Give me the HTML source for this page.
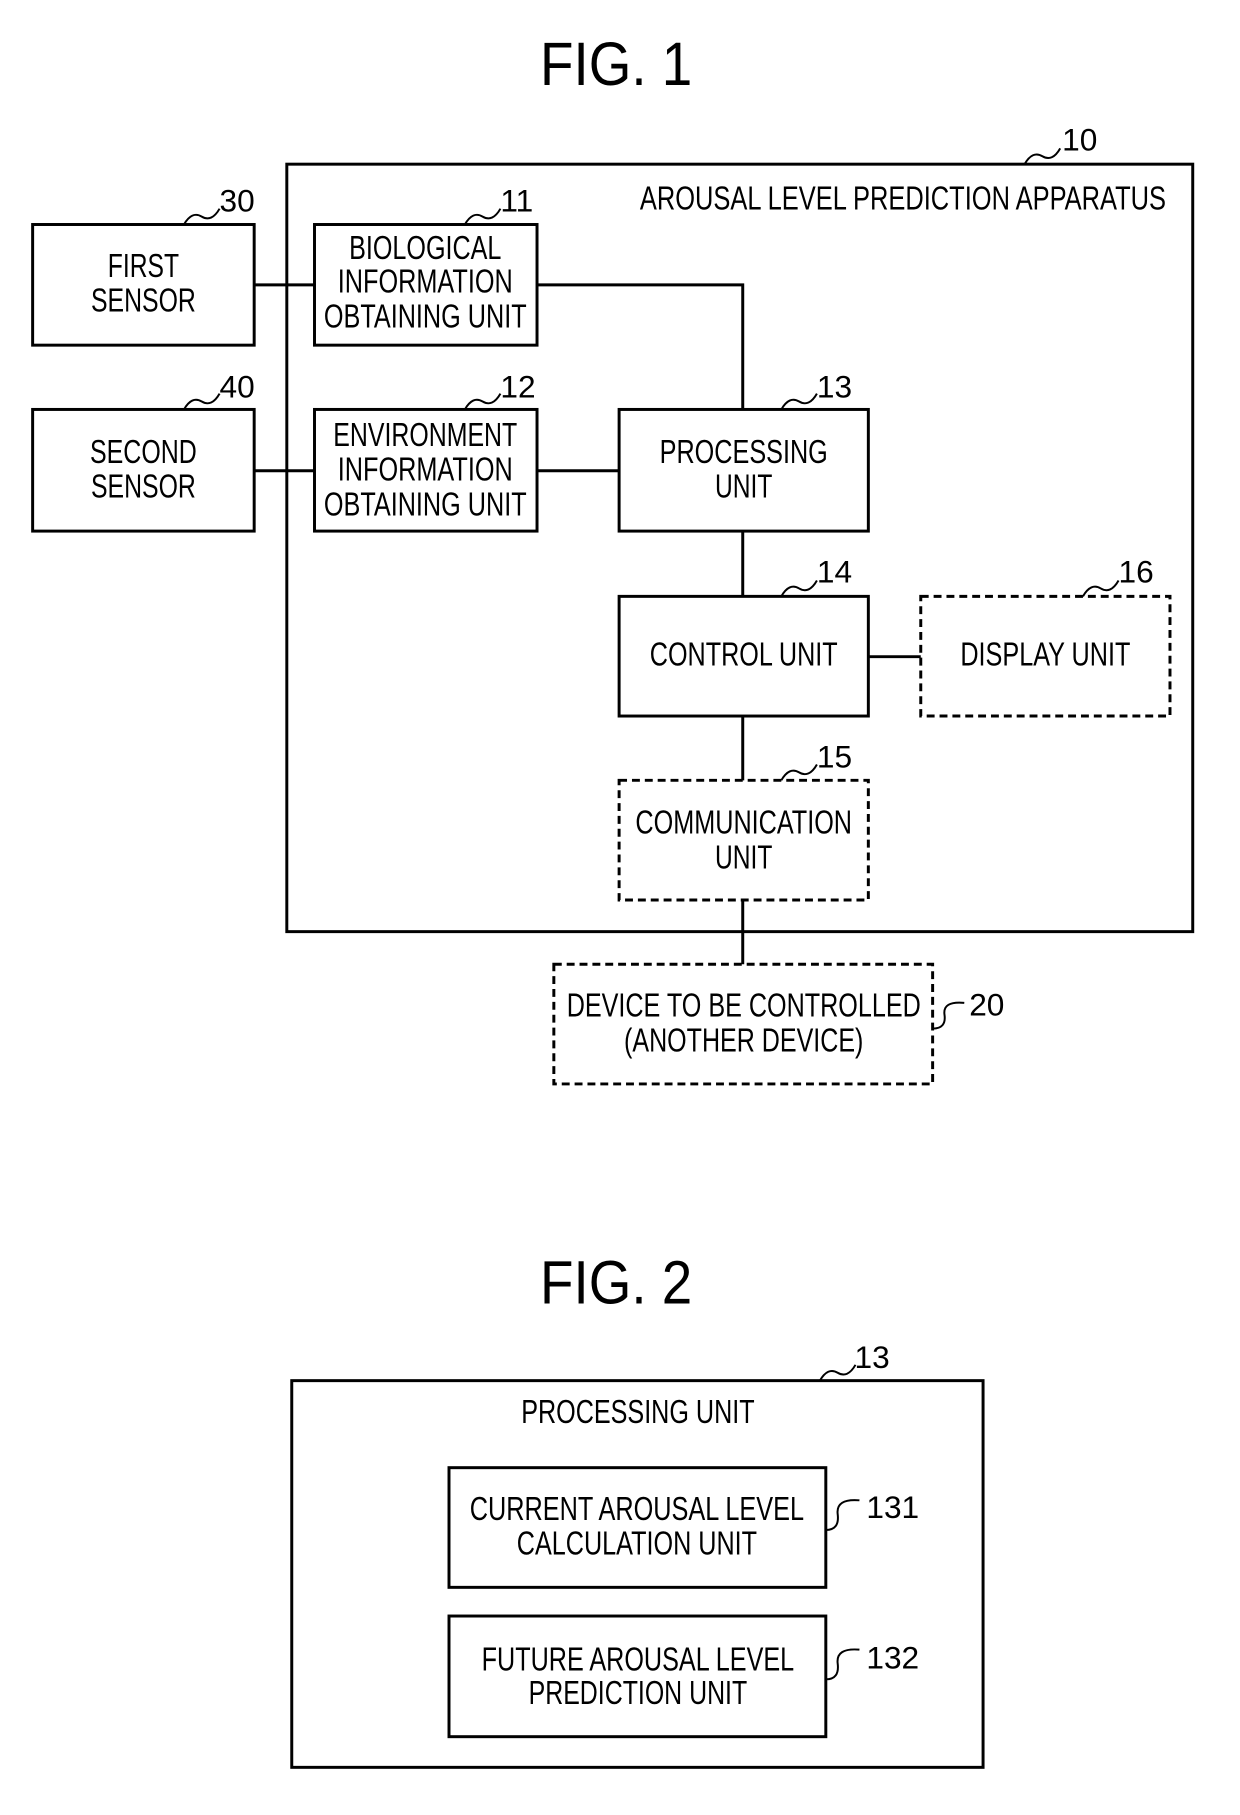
<!DOCTYPE html>
<html><head><meta charset="utf-8"><style>
html,body{margin:0;padding:0;background:#fff;}
svg{display:block;}
text{font-family:"Liberation Sans",sans-serif;fill:#000;}
.t{font-size:34px;text-anchor:middle;}
.n{font-size:32px;}
.f{font-size:62px;text-anchor:middle;}
</style></head><body>
<svg width="1240" height="1815" viewBox="0 0 1240 1815" xmlns="http://www.w3.org/2000/svg">
<g transform="scale(0.989)">
<g fill="none" stroke="#000" stroke-width="3">
<rect x="290" y="166" width="916" height="776"/>
<rect x="33" y="227" width="224" height="122"/>
<rect x="318" y="227" width="225" height="122"/>
<rect x="33" y="414" width="224" height="123"/>
<rect x="318" y="414" width="225" height="123"/>
<rect x="626" y="414" width="252" height="123"/>
<rect x="626" y="603" width="252" height="121"/>
<rect x="931" y="603" width="252" height="121" stroke-dasharray="8,5"/>
<rect x="626" y="789" width="252" height="121" stroke-dasharray="8,5"/>
<rect x="560" y="975" width="383" height="121" stroke-dasharray="8,5"/>
<path d="M257 288H318M543 288H751V414M257 476H318M543 476H626M751 537V603M878 664H931M751 724V789M751 910V975"/>
<rect x="295" y="1396" width="699" height="391"/>
<rect x="454" y="1484" width="381" height="121"/>
<rect x="454" y="1634" width="381" height="122"/>
</g>
<g fill="none" stroke="#000" stroke-width="2">
<path d="M1036 166 q8-14 18-8 t18-8"/>
<path d="M186 227 q8-14 18-8 t18-8"/>
<path d="M470 227 q8-14 18-8 t18-8"/>
<path d="M186 414 q8-14 18-8 t18-8"/>
<path d="M470 414 q8-14 18-8 t18-8"/>
<path d="M790 414 q8-14 18-8 t18-8"/>
<path d="M790 603 q8-14 18-8 t18-8"/>
<path d="M1095 603 q8-14 18-8 t18-8"/>
<path d="M790 789 q8-14 18-8 t18-8"/>
<path d="M829 1396 q8-14 18-8 t18-8"/>
<path d="M943 1040 q14 0 12-14 t20-12"/>
<path d="M835 1547 q14 0 12-16 t22-14"/>
<path d="M835 1698 q14 0 12-16 t22-14"/>
</g>
<text class="f" x="623" y="86" textLength="154" lengthAdjust="spacingAndGlyphs">FIG. 1</text>
<text class="f" x="623" y="1318" textLength="154" lengthAdjust="spacingAndGlyphs">FIG. 2</text>
<g class="n">
<text x="1074" y="152">10</text>
<text x="222" y="214">30</text>
<text x="506" y="214">11</text>
<text x="222" y="402">40</text>
<text x="506" y="402">12</text>
<text x="826" y="402">13</text>
<text x="826" y="589">14</text>
<text x="1131" y="589">16</text>
<text x="826" y="776">15</text>
<text x="980" y="1027">20</text>
<text x="864" y="1383">13</text>
<text x="876" y="1535">131</text>
<text x="876" y="1687">132</text>
</g>
<g class="t">
<text x="913" y="212" textLength="532" lengthAdjust="spacingAndGlyphs">AROUSAL LEVEL PREDICTION APPARATUS</text>
<text x="145" y="280" textLength="72" lengthAdjust="spacingAndGlyphs">FIRST</text>
<text x="145" y="315" textLength="106" lengthAdjust="spacingAndGlyphs">SENSOR</text>
<text x="430" y="262" textLength="154" lengthAdjust="spacingAndGlyphs">BIOLOGICAL</text>
<text x="430" y="296" textLength="177" lengthAdjust="spacingAndGlyphs">INFORMATION</text>
<text x="430" y="331" textLength="205" lengthAdjust="spacingAndGlyphs">OBTAINING UNIT</text>
<text x="145" y="468" textLength="108" lengthAdjust="spacingAndGlyphs">SECOND</text>
<text x="145" y="503" textLength="106" lengthAdjust="spacingAndGlyphs">SENSOR</text>
<text x="430" y="451" textLength="186" lengthAdjust="spacingAndGlyphs">ENVIRONMENT</text>
<text x="430" y="486" textLength="177" lengthAdjust="spacingAndGlyphs">INFORMATION</text>
<text x="430" y="521" textLength="205" lengthAdjust="spacingAndGlyphs">OBTAINING UNIT</text>
<text x="752" y="468" textLength="170" lengthAdjust="spacingAndGlyphs">PROCESSING</text>
<text x="752" y="503" textLength="58" lengthAdjust="spacingAndGlyphs">UNIT</text>
<text x="752" y="673" textLength="190" lengthAdjust="spacingAndGlyphs">CONTROL UNIT</text>
<text x="1057" y="673" textLength="172" lengthAdjust="spacingAndGlyphs">DISPLAY UNIT</text>
<text x="752" y="843" textLength="219" lengthAdjust="spacingAndGlyphs">COMMUNICATION</text>
<text x="752" y="878" textLength="58" lengthAdjust="spacingAndGlyphs">UNIT</text>
<text x="752" y="1028" textLength="358" lengthAdjust="spacingAndGlyphs">DEVICE TO BE CONTROLLED</text>
<text x="752" y="1063" textLength="242" lengthAdjust="spacingAndGlyphs">(ANOTHER DEVICE)</text>
<text x="645" y="1439" textLength="236" lengthAdjust="spacingAndGlyphs">PROCESSING UNIT</text>
<text x="644" y="1537" textLength="338" lengthAdjust="spacingAndGlyphs">CURRENT AROUSAL LEVEL</text>
<text x="644" y="1572" textLength="243" lengthAdjust="spacingAndGlyphs">CALCULATION UNIT</text>
<text x="645" y="1689" textLength="316" lengthAdjust="spacingAndGlyphs">FUTURE AROUSAL LEVEL</text>
<text x="645" y="1723" textLength="221" lengthAdjust="spacingAndGlyphs">PREDICTION UNIT</text>
</g>
</g>
</svg>
</body></html>
